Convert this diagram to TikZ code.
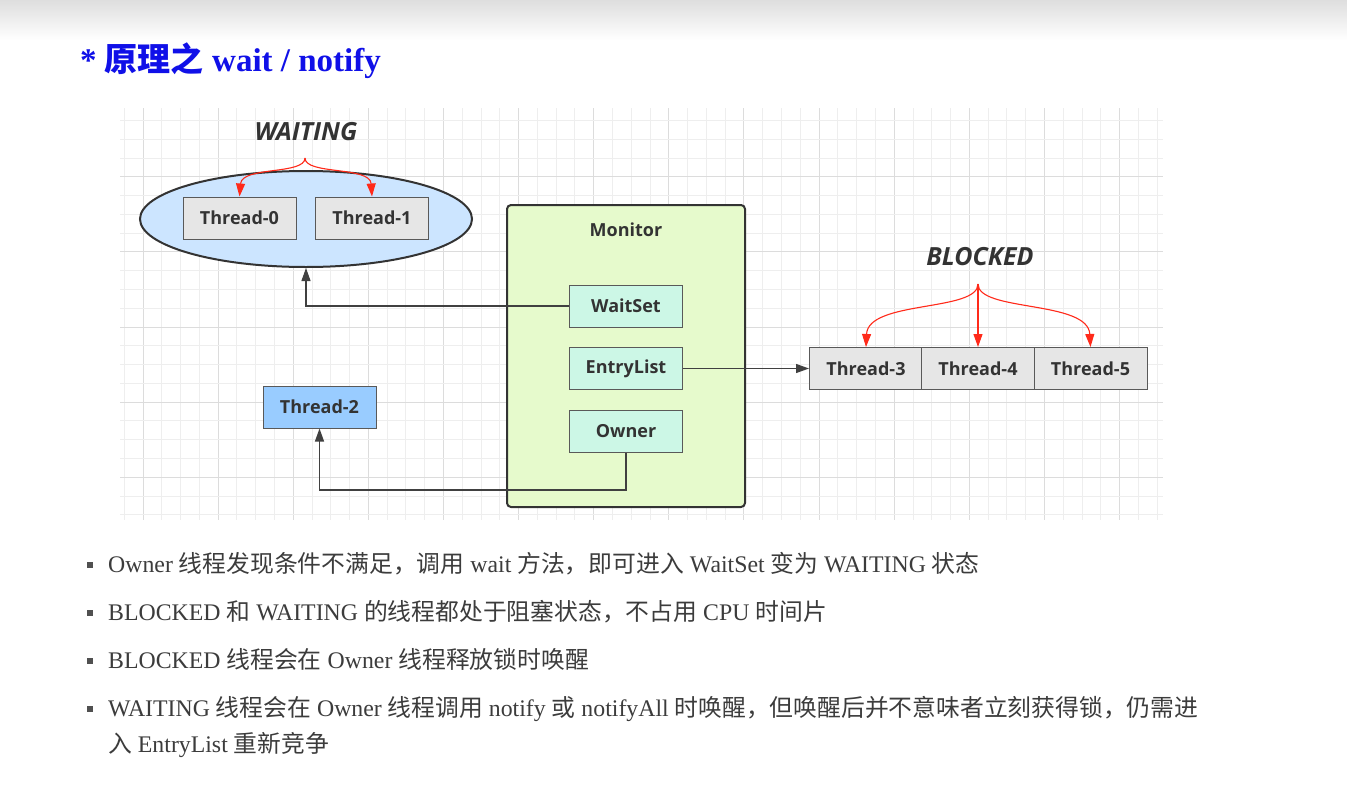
\documentclass[tikz,border=0pt]{standalone}
\usepackage{fontspec}
\setmainfont{Liberation Serif}
\newfontfamily\cjk{Noto Sans CJK SC}
\newfontfamily\lab{Open Sans}
\usetikzlibrary{arrows.meta,shapes.geometric,calc}
\newcommand\zh[1]{{\cjk #1}}
\definecolor{txt}{HTML}{3C3C3C}
\definecolor{lbl}{HTML}{333333}
\definecolor{titleblue}{HTML}{1010E8}
\definecolor{ellfill}{HTML}{CCE5FF}
\definecolor{thrfill}{HTML}{E6E6E6}
\definecolor{monfill}{HTML}{E6FACC}
\definecolor{inner}{HTML}{CCF7E6}
\definecolor{t2fill}{HTML}{99CCFF}
\definecolor{gminor}{HTML}{EEEEEE}
\definecolor{gmajor}{HTML}{DCDCDC}
\definecolor{arrred}{HTML}{FF2A1A}
\tikzset{
  box/.style={draw=black!65, line width=1pt, minimum width=113pt, minimum height=42pt, inner sep=0pt, font=\lab\bfseries\fontsize{18}{18}\selectfont, text=lbl},
  thr/.style={box, fill=thrfill},
  innerbox/.style={box, fill=inner},
  conn/.style={draw=black!75, line width=1.2pt, -{Triangle[length=13pt,width=9pt]}},
  redarr/.style={draw=arrred, line width=1.1pt, -{Triangle[length=13pt,width=9pt]}},
  state/.style={font=\lab\bfseries\itshape\fontsize{25}{25}\selectfont, text=lbl},
  bullet/.style={anchor=base west, font=\fontsize{23.8}{23.8}\selectfont, text=txt, inner sep=0pt},
  bsq/.style={fill=txt!90, minimum size=6.5pt, inner sep=0pt}
}
\begin{document}
\begin{tikzpicture}[x=1pt,y=-1pt]
\useasboundingbox (0,0) rectangle (1347,798);
\fill[white] (0,0) rectangle (1347,798);
\shade[top color=black!13, bottom color=white] (0,0) rectangle (1347,40);
% grid
\foreach \k in {0,...,55}{
  \pgfmathtruncatemacro\m{mod(\k+3,4)}
  \ifnum\m=0 \draw[gmajor, line width=0.9pt] (124.2+18.78*\k,108) -- (124.2+18.78*\k,520);
  \else \draw[gminor, line width=0.9pt] (124.2+18.78*\k,108) -- (124.2+18.78*\k,520); \fi
}
\foreach \j in {0,...,21}{
  \pgfmathtruncatemacro\m{mod(\j+1,4)}
  \ifnum\m=0 \draw[gmajor, line width=0.9pt] (120,120.4+18.78*\j) -- (1163,120.4+18.78*\j);
  \else \draw[gminor, line width=0.9pt] (120,120.4+18.78*\j) -- (1163,120.4+18.78*\j); \fi
}
% title
\node[anchor=base west, inner sep=0pt, text=titleblue, font=\bfseries\fontsize{33}{33}\selectfont] (title) at (80,71) {* \zh{\bfseries 原理之} wait / notify};
% waiting ellipse
\node[ellipse, draw=black!80, line width=2pt, fill=ellfill, minimum width=332pt, minimum height=96pt] (waiting) at (306,219) {};
\node[thr] (t0) at (239.5,218) {Thread-0};
\node[thr] (t1) at (372,218) {Thread-1};
\node[state] (wlab) at (306,132) {WAITING};
\coordinate (wpeak) at (305,158);
\draw[redarr] (wpeak) .. controls (305,175) and (242,166) .. (t0.north);
\draw[redarr] (wpeak) .. controls (305,175) and (370,166) .. (t1.north);
% monitor
\node[draw=black!80, line width=2pt, fill=monfill, rounded corners=4pt, minimum width=238pt, minimum height=302pt, inner sep=0pt] (monitor) at (626,356) {};
\node[font=\lab\bfseries\fontsize{18}{18}\selectfont, text=lbl] (monlab) at (626,230) {Monitor};
\node[innerbox] (waitset) at (626,306) {WaitSet};
\node[innerbox] (entry) at (626,368.5) {EntryList};
\node[innerbox] (owner) at (626,431) {Owner};
% thread-2
\node[box, fill=t2fill] (t2) at (319.5,407) {Thread-2};
% blocked
\node[thr] (t3) at (866,368.5) {Thread-3};
\node[thr] (t4) at (978,368.5) {Thread-4};
\node[thr] (t5) at (1090.5,368.5) {Thread-5};
\node[state] (blab) at (980,257) {BLOCKED};
\coordinate (bpeak) at (978,284);
\draw[redarr] (bpeak) .. controls (978,312) and (868,300) .. (t3.north);
\draw[redarr] (bpeak) -- (t4.north);
\draw[redarr] (bpeak) .. controls (978,312) and (1088,300) .. (t5.north);
% connectors
\draw[conn] (waitset.west) -| (waiting.south);
\draw[conn] (entry.east) -- (t3.west);
\coordinate (oc) at (626,490);
\draw[conn] (owner.south) -- (oc) -| (t2.south);
% bullets
\node[bsq] (b1) at (90,565) {};
\node[bsq] (b2) at (90,613) {};
\node[bsq] (b3) at (90,661) {};
\node[bsq] (b4) at (90,709) {};
\node[bullet] (l1) at (108,572) {Owner \zh{线程发现条件不满足，调用} wait \zh{方法，即可进入} WaitSet \zh{变为} WAITING \zh{状态}};
\node[bullet] (l2) at (108,620) {BLOCKED \zh{和} WAITING \zh{的线程都处于阻塞状态，不占用} CPU \zh{时间片}};
\node[bullet] (l3) at (108,668) {BLOCKED \zh{线程会在} Owner \zh{线程释放锁时唤醒}};
\node[bullet] (l4) at (108,716) {WAITING \zh{线程会在} Owner \zh{线程调用} notify \zh{或} notifyAll \zh{时唤醒，但唤醒后并不意味者立刻获得锁，仍需进}};
\node[bullet] (l5) at (108,752) {\zh{入} EntryList \zh{重新竞争}};
\end{tikzpicture}
\end{document}
